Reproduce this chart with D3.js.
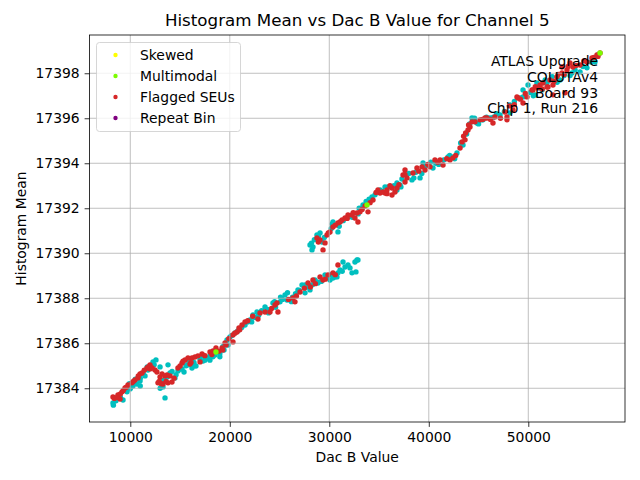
<!DOCTYPE html>
<html><head><meta charset="utf-8">
<script src="https://cdn.jsdelivr.net/npm/d3@7"></script>
<style>body{margin:0;background:#fff;} svg{display:block;font-family:"DejaVu Sans",sans-serif;}</style>
</head><body>
<svg id="c" width="640" height="480"></svg>
<script>
// Data: [Dac B Value, Histogram Mean]
const normalPts = [
[8260,17383.35],[8560,17383.44],[9270,17383.48],[9670,17383.84],[9970,17383.97],[10270,17384.10],[10670,17384.19],[10980,17384.32],
[11480,17384.55],[11780,17384.81],[12280,17385.17],[12580,17385.26],[12990,17384.95],[13290,17384.06],[13490,17383.57],[13790,17385.04],
[13990,17384.68],[14490,17384.46],[14790,17384.77],[15200,17384.86],[15400,17384.72],[15800,17385.04],[16200,17384.90],[16600,17384.99],
[17310,17385.21],[17710,17385.35],[18010,17385.44],[18510,17385.48],[18810,17385.61],[19420,17385.70],[19820,17385.92],
[19720,17386.15],[20020,17386.28],[20520,17386.46],[21530,17386.81],[22030,17387.04],[22330,17387.26],[22730,17387.39],[23540,17387.61],
[24340,17387.79],[25050,17387.84],[25550,17388.15],[25750,17387.92],[26050,17387.92],[26850,17388.37],[27260,17388.59],[27560,17388.24],
[28060,17388.37],[28560,17388.81],[28860,17388.68],[29570,17389.04],[30070,17388.81],[30370,17388.90],[30770,17388.95],
[27560,17388.59],[28760,17388.72],[31080,17389.26],[31380,17389.61],[31880,17389.48],[32080,17389.35],[32280,17389.13],[32580,17389.61],
[32780,17389.70],[31580,17389.39],[30870,17389.13],[30570,17388.95],[32880,17389.70],[32680,17389.17],
[28060,17390.37],[28260,17390.15],[28360,17390.28],[28760,17390.81],[29070,17390.90],[29270,17390.50],[30370,17391.39],[30870,17390.95],
[31880,17391.61],[33290,17392.01],[33390,17392.15],[34290,17392.50],[35100,17392.81],[36800,17393.13],[37110,17393.04],
[36800,17392.81],[38310,17393.26],[39120,17393.35],[39420,17394.01],[40420,17393.79],[41930,17394.28],[42330,17394.28],[42830,17394.46],
[43440,17394.81],[44340,17396.01],[44840,17395.79],[45450,17395.93],[47160,17396.15],[48160,17396.24],[49470,17397.26],[49970,17397.48],
[50870,17397.57],[51880,17397.57],
[45350,17395.93],[46150,17396.01],[48160,17396.59],[49470,17396.95],[50670,17397.04],[51380,17397.26],[53190,17397.70],[54390,17398.01],
[55200,17398.06],[55900,17398.24],[56700,17398.50],[57000,17398.81],
[8300,17383.25],[9000,17383.60],[9900,17384.20],[10400,17384.25],[10500,17384.40],[11000,17384.45],[11300,17384.65],[11700,17384.95],
[12100,17385.00],[13000,17384.00],[13300,17384.35],[13700,17384.50],[14200,17384.75],[14600,17384.60],[15000,17384.85],[15600,17385.00],
[16400,17385.15],[17000,17385.30],[17500,17385.25],[18300,17385.40],[19000,17385.55],[19300,17385.85],[20200,17386.35],[20800,17386.55],
[21200,17386.70],[21800,17386.95],[22500,17387.15],[23200,17387.45],[23800,17387.50],[24600,17387.60],[25300,17387.95],[26300,17388.05],
[26600,17388.20],[27800,17388.50],[28300,17388.60],[29200,17388.75],[29800,17388.95],[30200,17389.05],[31300,17389.20],
[28200,17390.45],[28500,17390.60],[28900,17390.75],[29500,17390.70],[30200,17391.10],[31000,17391.20],[31400,17391.45],[32300,17391.60],
[32900,17391.75],[33700,17392.30],[34600,17392.60],[35300,17392.75],[35900,17392.95],[36500,17393.00],[37300,17393.30],[38000,17393.55],
[38700,17393.60],[39700,17393.90],[40700,17394.00],[41500,17394.15],[42600,17394.20],[43200,17394.90],[43800,17395.30],[44100,17395.75],
[45800,17396.05],[46500,17396.05],[47600,17396.30],[48600,17396.75],[49200,17396.90],[50200,17397.15],[51000,17397.45],[52400,17397.85],
[53600,17397.90],[54700,17398.15],[55500,17398.30],[56300,17398.50],
[10000,17384.00],[11000,17384.10],[12400,17385.05],[15700,17385.25],[16400,17385.00],[17300,17385.45],[18000,17385.25],[19000,17385.40],
[22200,17386.95],[22900,17387.25],[23900,17387.35],[24500,17387.85],[25100,17388.05],[25800,17388.25],[26200,17387.85],[27000,17388.35],
[30300,17391.30],[33000,17392.00],[34000,17392.40],[35600,17392.95],[37200,17392.95],[38500,17393.35],[39300,17393.55],[40200,17394.05],
[41000,17393.95],[42100,17394.35],[44600,17396.00],[45000,17395.75],[46800,17396.20],[50500,17397.00],[51700,17397.70],[52900,17397.60],
[54200,17397.90]
];
const flaggedSEUs = [
[8260,17383.61],[8760,17383.70],[9170,17383.84],[8970,17383.52],[9470,17384.01],[9770,17384.15],[10170,17384.24],[10470,17384.37],
[10770,17384.46],[10980,17384.64],[11180,17384.68],[11680,17384.90],[11980,17385.04],[11980,17384.86],[12480,17384.81],[12680,17384.72],
[12990,17384.50],[13190,17384.64],[13490,17384.55],[13690,17384.59],[12780,17384.24],[13290,17384.19],[13790,17384.24],[14190,17384.28],
[14790,17384.90],[15000,17384.99],[15200,17385.12],[15500,17385.26],[15800,17385.35],[16000,17385.08],[16200,17385.35],[16500,17385.39],
[16800,17385.44],[17010,17385.17],[17210,17385.52],[18010,17385.61],[18310,17385.66],[18610,17385.79],[19220,17385.79],[19620,17385.92],
[19520,17386.01],[20320,17386.37],[20720,17386.50],[20920,17386.68],[21230,17386.81],[21530,17386.95],[22830,17387.08],[23040,17387.35],
[23540,17387.39],[24040,17387.39],[24540,17387.70],[24740,17387.79],[24840,17387.39],[26550,17387.84],[20320,17386.06],
[26350,17388.01],[27060,17388.28],[27860,17388.68],[28360,17388.81],[29070,17388.95],[29370,17388.81],[29870,17389.04],[30370,17389.13],
[30870,17389.48],
[28760,17390.68],[29070,17390.59],[29570,17390.46],[29370,17390.15],[29770,17390.81],[30070,17390.95],[30370,17391.17],[30870,17391.35],
[31280,17391.48],[31580,17391.57],[31880,17391.70],[32280,17391.70],[32580,17391.57],[32880,17391.39],[32780,17391.79],[33090,17391.84],
[33890,17391.84],[34390,17392.37],[34890,17392.81],[35100,17392.68],[35600,17392.68],[35800,17392.81],[36300,17392.90],[36600,17392.72],
[36800,17392.90],[37610,17393.17],[35400,17392.72],[36300,17392.59],
[37610,17393.70],[37410,17393.48],[37810,17393.35],[38410,17393.57],[38810,17393.79],[39320,17393.84],[39620,17393.70],[40120,17393.84],
[40620,17394.15],[41130,17394.15],[41430,17393.92],[42130,17394.15],[42430,17394.24],[43140,17394.68],[43340,17394.95],[43640,17395.04],
[43940,17395.48],[44140,17395.61],[44340,17395.84],[44640,17395.84],[45150,17395.93],[45850,17396.01],[46450,17395.79],[46650,17396.06],
[47860,17395.93],[48460,17396.37],[48860,17396.95],[49470,17396.68],[49870,17396.95],[50370,17397.26],[51180,17397.48],[51980,17397.39],
[52480,17397.48],
[45650,17396.01],[47660,17396.28],[48960,17396.90],[50470,17397.26],[50970,17397.35],[51480,17397.57],[52180,17397.70],[52880,17397.84],
[53390,17398.01],[53890,17398.15],[54490,17398.28],[55200,17398.37],[55900,17398.50],[56400,17398.68],[56900,17398.81],[57210,17398.90],
[53390,17398.28],[54190,17398.46],[51880,17397.39],[52480,17397.04],[53690,17397.13],[47860,17396.06],
[8400,17383.55],[8700,17383.60],[9000,17383.75],[9300,17383.90],[9600,17384.05],[10300,17384.30],[10800,17384.55],[11400,17384.80],
[11800,17384.95],[12200,17384.90],[12900,17384.30],[13100,17384.20],[13600,17384.30],[14000,17384.55],[14400,17384.45],[15300,17385.20],
[16100,17385.15],[17500,17385.45],[18200,17385.50],[18900,17385.65],[19300,17385.70],[19900,17386.20],[20500,17386.45],
[21000,17386.60],[21800,17387.00],[22300,17387.20],[24200,17387.55],[25900,17387.95],[26700,17388.10],
[27500,17388.45],[28100,17388.50],[28600,17388.65],[29600,17388.85],[30600,17389.05],[28900,17390.50],[29900,17390.90],[30600,17391.25],
[31100,17391.40],[31800,17391.55],[32400,17391.80],[33300,17391.95],[33600,17392.10],[34100,17392.25],[34700,17392.70],[35800,17392.65],
[36100,17393.00],[37000,17393.05],[37600,17393.50],[39000,17393.65],[39900,17393.95],[40900,17394.05],[41800,17394.20],
[42700,17394.35],[43500,17395.20],[43700,17395.35],[44000,17395.70],[45400,17395.95],[46200,17395.95],[47200,17396.00],[48100,17396.55],
[48600,17396.60],[49200,17396.85],[49700,17397.10],[50700,17397.40],[51400,17397.30],[52600,17397.65],[53000,17397.95],[53600,17397.95],
[54000,17398.30],[54800,17398.35],[55600,17398.55],[56600,17398.70],[57000,17398.75]
];
const skewedPts = [];
const multimodalPts = [[18610,17385.61],[33790,17392.15],[57210,17398.90]];
const repeatBinPts = [];

const xTicks = [10000,20000,30000,40000,50000];
const yTicks = [17384,17386,17388,17390,17392,17394,17396,17398];
const legendLabels = ["Skewed","Multimodal","Flagged SEUs","Repeat Bin"];
const noteLines = ["ATLAS Upgrade","COLUTAv4","Board 93","Chip 1, Run 216"];

const colors = {normal:"#00bfbf", skewed:"#ffff00", multimodal:"#7cfc00", seu:"#d62728", repeat:"#800080"};
const legendColors = [colors.skewed, colors.multimodal, colors.seu, colors.repeat];

const L=89.5, R=625, T=35, B=422;
const x = d3.scaleLinear().domain([5900,59719]).range([L,R]);
const y = d3.scaleLinear().domain([17382.50,17399.70]).range([B,T]);
const svg = d3.select("#c");

function drawPts(data,col){
  svg.append("g").selectAll("circle").data(data).join("circle")
    .attr("cx",d=>x(d[0])).attr("cy",d=>y(d[1])).attr("r",2.7).attr("fill",col);
}
drawPts(normalPts,colors.normal);
drawPts(flaggedSEUs,colors.seu);
drawPts(skewedPts,colors.skewed);
drawPts(multimodalPts,colors.multimodal);
drawPts(repeatBinPts,colors.repeat);

const grid = svg.append("g").attr("stroke","#b0b0b0").attr("stroke-width",0.8);
grid.selectAll(".gx").data(xTicks).join("line").attr("x1",d=>x(d)).attr("x2",d=>x(d)).attr("y1",T).attr("y2",B);
grid.selectAll(".gy").data(yTicks).join("line").attr("y1",d=>y(d)).attr("y2",d=>y(d)).attr("x1",L).attr("x2",R);

const xa = svg.append("g").attr("transform",`translate(0,${B})`)
  .call(d3.axisBottom(x).tickValues(xTicks).tickFormat(d3.format("d")).tickSize(4.9).tickPadding(4.9));
const ya = svg.append("g").attr("transform",`translate(${L},0)`)
  .call(d3.axisLeft(y).tickValues(yTicks).tickFormat(d3.format("d")).tickSize(4.9).tickPadding(4.9));
[xa,ya].forEach(a=>{a.select(".domain").remove();a.selectAll("text").attr("font-size","13.9px").attr("font-family","DejaVu Sans").attr("fill","#000");a.selectAll("line").attr("stroke","#000").attr("stroke-width",0.8);});

svg.append("rect").attr("x",L).attr("y",T).attr("width",R-L).attr("height",B-T)
  .attr("fill","none").attr("stroke","#000").attr("stroke-width",0.8);

svg.append("text").attr("x",(L+R)/2).attr("y",26).attr("text-anchor","middle")
  .attr("font-size","16.7px").text("Histogram Mean vs Dac B Value for Channel 5");
svg.append("text").attr("x",(L+R)/2).attr("y",462).attr("text-anchor","middle")
  .attr("font-size","13.9px").text("Dac B Value");
svg.append("text").attr("transform",`translate(26,${(T+B)/2}) rotate(-90)`).attr("text-anchor","middle")
  .attr("font-size","13.9px").text("Histogram Mean");

svg.append("g").selectAll("text").data(noteLines).join("text")
  .attr("x",598).attr("y",(d,i)=>66+i*15.8).attr("text-anchor","end")
  .attr("font-size","13.9px").text(d=>d);

const lg = svg.append("g");
lg.append("rect").attr("x",96.5).attr("y",42.5).attr("width",144).attr("height",89).attr("rx",3)
  .attr("fill","#fff").attr("fill-opacity",0.8).attr("stroke","#cccccc").attr("stroke-width",0.8);
legendLabels.forEach((lab,i)=>{
  const yy = 55+i*21;
  lg.append("circle").attr("cx",115.5).attr("cy",yy).attr("r",2.2).attr("fill",legendColors[i]);
  lg.append("text").attr("x",140).attr("y",yy+5).attr("font-size","13.9px").text(lab);
});
</script>
</body></html>
